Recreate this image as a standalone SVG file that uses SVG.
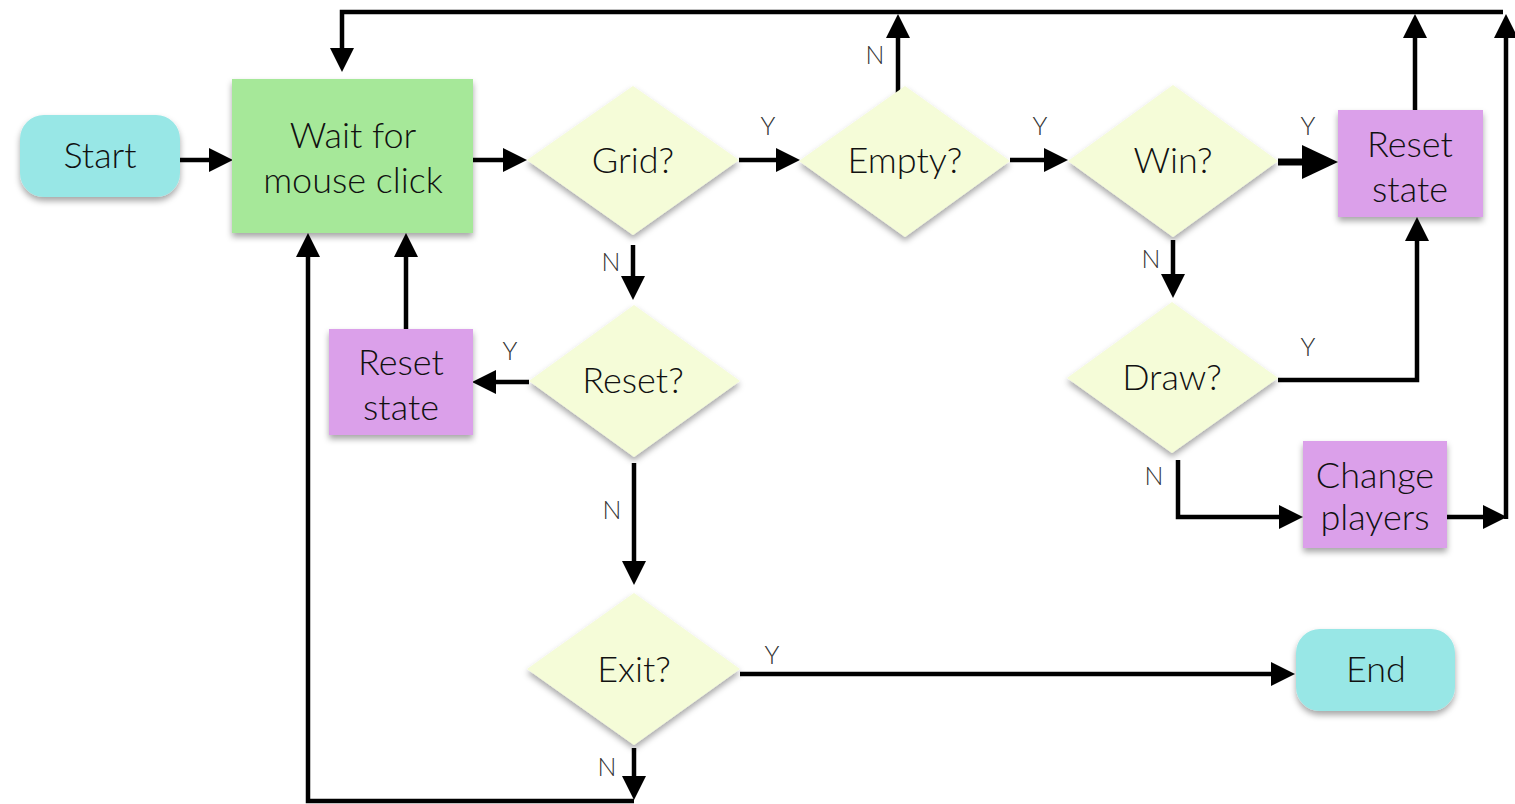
<svg xmlns="http://www.w3.org/2000/svg" width="1515" height="804" viewBox="0 0 1515 804">
  <defs>
    <filter id="shadow" x="-20%" y="-20%" width="140%" height="150%">
      <feDropShadow dx="0" dy="4" stdDeviation="3" flood-color="#000" flood-opacity="0.35"/>
    </filter>
    <marker id="arrow" markerUnits="userSpaceOnUse" viewBox="0 0 24 24" refX="4" refY="12" markerWidth="24" markerHeight="24" orient="auto">
      <path d="M0,0 L24,12 L0,24 Z" fill="#000"/>
    </marker>
    <marker id="arrow-big" markerUnits="userSpaceOnUse" viewBox="0 0 36 34" refX="6" refY="17" markerWidth="36" markerHeight="34" orient="auto">
      <path d="M0,0 L36,17 L0,34 Z" fill="#000"/>
    </marker>
  </defs>
  <style>
    .terminal { fill: #98E7E6; filter: url(#shadow); }
    .process { fill: #A6E899; filter: url(#shadow); }
    .action { fill: #DBA0EA; filter: url(#shadow); }
    .decision { fill: #F5FCD8; filter: url(#shadow); }
    .label { font-family: Lato, "Open Sans", sans-serif; font-weight: 300; font-size: 36px; fill: #111; text-anchor: middle; }
    .yn { font-family: Lato, "Open Sans", sans-serif; font-weight: 300; font-size: 25px; fill: #333; text-anchor: middle; }
    .edge { fill: none; stroke: #000; stroke-width: 4.5; stroke-linejoin: miter; }
    .edge.arrowed { marker-end: url(#arrow); }
    .edge.thick { stroke-width: 7; marker-end: url(#arrow-big); }
  </style>
  <rect width="1515" height="804" fill="#fff"/>

  <!-- connectors -->
  <g id="connectors">
    <path class="edge arrowed" d="M180,160 H213"/>
    <path class="edge arrowed" d="M473,160 H507"/>
    <path class="edge arrowed" d="M739,160 H780"/>
    <path class="edge arrowed" d="M1010,160 H1048"/>
    <path class="edge thick" d="M1278,162 H1308"/>
    <path class="edge arrowed" d="M898,95 V34"/>
    <path class="edge arrowed" d="M1503,12 H342 V52"/>
    <path class="edge arrowed" d="M1415,110 V34"/>
    <path class="edge arrowed" d="M1447,517 H1487"/>
    <path class="edge arrowed" d="M1506,519 V34"/>
    <path class="edge arrowed" d="M1173,240 V278"/>
    <path class="edge arrowed" d="M1278,380 H1417 V237"/>
    <path class="edge arrowed" d="M1178,460 V517 H1283"/>
    <path class="edge arrowed" d="M633,245 V280"/>
    <path class="edge arrowed" d="M529,382 H492"/>
    <path class="edge arrowed" d="M406,329 V253"/>
    <path class="edge arrowed" d="M634,463 V565"/>
    <path class="edge arrowed" d="M740,674 H1275"/>
    <path class="edge arrowed" d="M634,748 V780"/>
    <path class="edge arrowed" d="M634,801 H308 V253"/>

    <text class="yn" x="768" y="135">Y</text>
    <text class="yn" x="1040" y="135">Y</text>
    <text class="yn" x="1308" y="135">Y</text>
    <text class="yn" x="875" y="64">N</text>
    <text class="yn" x="1151" y="268">N</text>
    <text class="yn" x="1308" y="356">Y</text>
    <text class="yn" x="1154" y="485">N</text>
    <text class="yn" x="611" y="271">N</text>
    <text class="yn" x="510" y="360">Y</text>
    <text class="yn" x="612" y="519">N</text>
    <text class="yn" x="772" y="664">Y</text>
    <text class="yn" x="607" y="776">N</text>
  </g>

  <!-- nodes -->
  <g id="start">
    <rect class="terminal" x="20" y="115" width="160" height="82" rx="24"/>
    <text class="label" x="100" y="168">Start</text>
  </g>
  <g id="wait">
    <rect class="process" x="232" y="79" width="241" height="154"/>
    <text class="label" x="353" y="148">Wait for</text>
    <text class="label" x="353" y="193">mouse click</text>
  </g>
  <g id="grid">
    <polygon class="decision" points="527,160 633,86 739,160 633,235"/>
    <text class="label" x="633" y="173">Grid?</text>
  </g>
  <g id="empty">
    <polygon class="decision" points="799,161 905,86 1010,161 905,237"/>
    <text class="label" x="905" y="173">Empty?</text>
  </g>
  <g id="win">
    <polygon class="decision" points="1068,161 1173,85 1278,161 1173,237"/>
    <text class="label" x="1173" y="173">Win?</text>
  </g>
  <g id="reset-state-win">
    <rect class="action" x="1338" y="110" width="145" height="107"/>
    <text class="label" x="1410" y="157">Reset</text>
    <text class="label" x="1410" y="202">state</text>
  </g>
  <g id="draw">
    <polygon class="decision" points="1067,378 1172,302 1278,378 1172,453"/>
    <text class="label" x="1172" y="390">Draw?</text>
  </g>
  <g id="change-players">
    <rect class="action" x="1303" y="441" width="144" height="107"/>
    <text class="label" x="1375" y="488">Change</text>
    <text class="label" x="1375" y="530">players</text>
  </g>
  <g id="reset">
    <polygon class="decision" points="529,381 634,305 740,381 634,457"/>
    <text class="label" x="633" y="393">Reset?</text>
  </g>
  <g id="reset-state">
    <rect class="action" x="329" y="329" width="144" height="106"/>
    <text class="label" x="401" y="375">Reset</text>
    <text class="label" x="401" y="420">state</text>
  </g>
  <g id="exit">
    <polygon class="decision" points="527,669 634,593 740,669 634,745"/>
    <text class="label" x="634" y="682">Exit?</text>
  </g>
  <g id="end">
    <rect class="terminal" x="1296" y="629" width="159" height="82" rx="24"/>
    <text class="label" x="1376" y="682">End</text>
  </g>
</svg>
